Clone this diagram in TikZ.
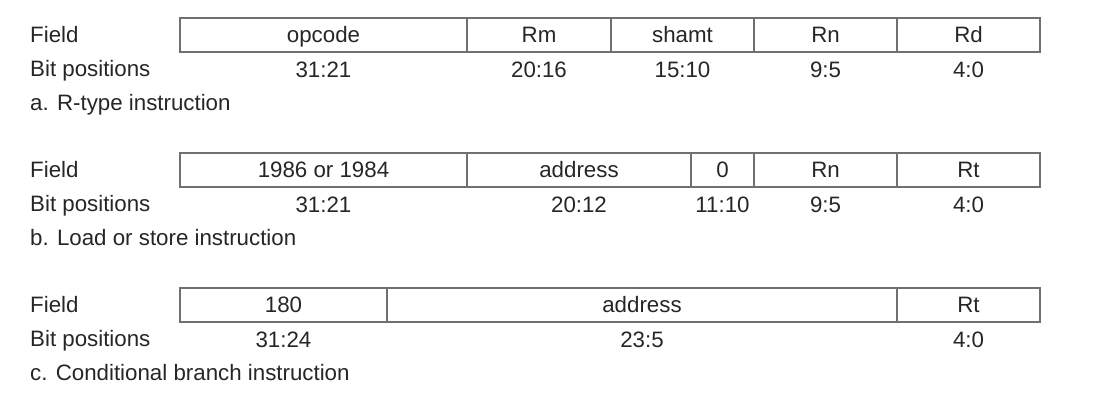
\documentclass[tikz,border=0pt]{standalone}
\usepackage{fontspec}
\setmainfont{Liberation Sans}
\usepackage{tikz}
\usetikzlibrary{positioning}
\definecolor{txtgray}{HTML}{262626}
\definecolor{linegray}{HTML}{707070}

\begin{document}
\begin{tikzpicture}
		[
		x=1pt, y=-1pt,
		font=\fontsize{22.3}{26}\selectfont, text=txtgray,
		cell/.style ={rectangle, draw=linegray, line width=1.5pt, inner sep=0pt, outer sep=0pt, minimum height=34pt, text height=15.5pt, text depth=0pt, align=center},
		lbl/.style ={anchor=base west, inner sep=0pt},
		bits/.style ={anchor=base, inner sep=0pt}
		]
		\useasboundingbox (0,0) rectangle (1096,415);
		% a. R-type
		\node[lbl] (fa) at (30,42.5) {Field};
		\node[lbl] (ba) at (30,76.5) {Bit positions};
		\node[lbl] (ca) at (30,110.5) {a. R-type instruction};
		\node[anchor=north west] (opa) [cell, minimum width=287pt] at (180,18) {opcode};
		\node[right=0pt of opa] (rma) [cell, minimum width=144pt] {Rm};
		\node[right=0pt of rma] (sha) [cell, minimum width=143pt] {shamt};
		\node[right=0pt of sha] (rna) [cell, minimum width=143pt] {Rn};
		\node[right=0pt of rna] (rda) [cell, minimum width=143pt] {Rd};
		\node[below=25pt of opa.south] (opab) [bits] {31:21};
		\node[below=25pt of rma.south] (rmab) [bits] {20:16};
		\node[below=25pt of sha.south] (shab) [bits] {15:10};
		\node[below=25pt of rna.south] (rnab) [bits] {9:5};
		\node[below=25pt of rda.south] (rdab) [bits] {4:0};
		% b. Load or store
		\node[lbl] (fb) at (30,177.5) {Field};
		\node[lbl] (bb) at (30,211.5) {Bit positions};
		\node[lbl] (cb) at (30,245.5) {b. Load or store instruction};
		\node[anchor=north west] (opb) [cell, minimum width=287pt] at (180,153) {1986 or 1984};
		\node[right=0pt of opb] (adb) [cell, minimum width=224pt] {address};
		\node[right=0pt of adb] (zb) [cell, minimum width=63pt] {0};
		\node[right=0pt of zb] (rnb) [cell, minimum width=143pt] {Rn};
		\node[right=0pt of rnb] (rtb) [cell, minimum width=143pt] {Rt};
		\node[below=25pt of opb.south] (opbb) [bits] {31:21};
		\node[below=25pt of adb.south] (adbb) [bits] {20:12};
		\node[below=25pt of zb.south] (zbb) [bits] {11:10};
		\node[below=25pt of rnb.south] (rnbb) [bits] {9:5};
		\node[below=25pt of rtb.south] (rtbb) [bits] {4:0};
		% c. Conditional branch
		\node[lbl] (fc) at (30,312.5) {Field};
		\node[lbl] (bc) at (30,346.5) {Bit positions};
		\node[lbl] (cc) at (30,380.5) {c. Conditional branch instruction};
		\node[anchor=north west] (opc) [cell, minimum width=207pt] at (180,288) {180};
		\node[right=0pt of opc] (adc) [cell, minimum width=510pt] {address};
		\node[right=0pt of adc] (rtc) [cell, minimum width=143pt] {Rt};
		\node[below=25pt of opc.south] (opcb) [bits] {31:24};
		\node[below=25pt of adc.south] (adcb) [bits] {23:5};
		\node[below=25pt of rtc.south] (rtcb) [bits] {4:0};
	\end{tikzpicture}
\end{document}
